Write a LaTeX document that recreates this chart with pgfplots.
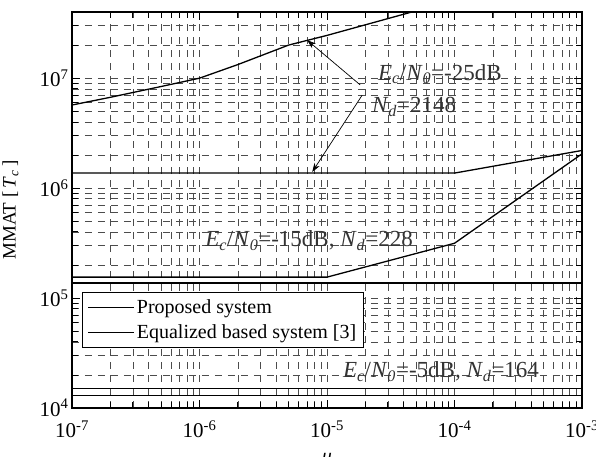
\documentclass[border=0pt]{standalone}
\usepackage{fontspec}
\setmainfont{Liberation Serif}
\usepackage{pgfplots}
\pgfplotsset{compat=1.18}
\usetikzlibrary{arrows.meta}
\begin{document}
\begin{tikzpicture}
\begin{axis}[
  scale only axis, width=510pt, height=396pt,
  xmode=log, ymode=log, log basis x=10, log basis y=10,
  xmin=1e-7, xmax=1e-3, ymin=1e4, ymax=4e7,
  xtick={1e-7,1e-6,1e-5,1e-4,1e-3},
  ytick={1e4,1e5,1e6,1e7},
  minor xtick={2e-7,3e-7,4e-7,5e-7,6e-7,7e-7,8e-7,9e-7,
               2e-6,3e-6,4e-6,5e-6,6e-6,7e-6,8e-6,9e-6,
               2e-5,3e-5,4e-5,5e-5,6e-5,7e-5,8e-5,9e-5,
               2e-4,3e-4,4e-4,5e-4,6e-4,7e-4,8e-4,9e-4},
  minor ytick={2e4,3e4,4e4,5e4,6e4,7e4,8e4,9e4,
               2e5,3e5,4e5,5e5,6e5,7e5,8e5,9e5,
               2e6,3e6,4e6,5e6,6e6,7e6,8e6,9e6,
               2e7,3e7},
  /pgf/number format/assume math mode=true,
  xticklabel={10\textsuperscript{\pgfmathprintnumber[fixed,precision=0]{\tick}}},
  yticklabel={10\textsuperscript{\pgfmathprintnumber[fixed,precision=0]{\tick}}},
  tick label style={font=\fontsize{21}{23}\selectfont},
  xticklabel style={yshift=-9pt},
  grid=both,
  major grid style={black!70, line width=0.6pt, dash pattern=on 7pt off 6pt},
  minor grid style={black!70, line width=0.6pt, dash pattern=on 7pt off 6pt},
  major tick length=8pt, minor tick length=6pt,
  tick style={black, line width=0.8pt},
  axis line style={line width=1.2pt},
  xlabel={\textit{μ}},
  xlabel style={font=\fontsize{20}{22}\selectfont, at={(axis description cs:0.5,-0.105)}, anchor=north},
  ylabel={MMAT [\,\textit{T}\textsubscript{\textit{c}}\,]},
  ylabel style={font=\fontsize{19}{21}\selectfont, at={(axis description cs:-0.098,0.5)}, anchor=south},
  legend style={at={(rel axis cs:0.0196,0.293)}, anchor=north west, draw=black, line width=1.2pt, fill=white,
    font=\fontsize{20}{22}\selectfont, row sep=6pt, inner xsep=5pt, inner ysep=5pt},
  legend cell align=left,
  legend image code/.code={\draw[#1] (0pt,0pt) -- (46pt,0pt);},
]
% -25 dB proposed
\addplot[black, line width=1.3pt] coordinates {(1e-7,1.37e6) (1e-5,1.37e6) (1e-4,1.37e6) (1e-3,2.2e6)};
\addlegendentry{Proposed system}
% -25 dB equalized
\addplot[black, line width=1.3pt] coordinates {(1e-7,5.7e6) (2e-7,6.7e6) (5e-7,8.4e6) (1e-6,1e7) (2e-6,1.33e7) (5e-6,2e7) (1e-5,2.45e7) (5e-5,4.1e7) (1e-4,5.1e7) (1e-3,1e8)};
\addlegendentry{Equalized based system [3]}
% -15 dB
\addplot[black, line width=1.3pt, forget plot] coordinates {(1e-7,1.55e5) (1e-5,1.55e5) (1e-4,3.15e5) (1e-3,2.05e6)};
\addplot[black, line width=1.3pt, forget plot] coordinates {(1e-7,1.37e5) (1e-3,1.37e5)};
% -5 dB
\addplot[black, line width=1.3pt, forget plot] coordinates {(1e-7,1.5e4) (1e-3,1.5e4)};
\addplot[black, line width=1.3pt, forget plot] coordinates {(1e-7,1.3e4) (1e-3,1.3e4)};

\draw[-{Stealth[length=9pt,width=6pt]}, line width=0.7pt] (rel axis cs:0.565,0.816) -- (rel axis cs:0.461,0.929);
\draw[-{Stealth[length=9pt,width=6pt]}, line width=0.7pt] (rel axis cs:0.569,0.790) -- (rel axis cs:0.471,0.596);

\node[anchor=base west, inner sep=0pt, text=black!80, font=\fontsize{23}{25}\selectfont] at (rel axis cs:0.600,0.828) {\textit{E}\textsubscript{\textit{c}}/\textit{N}\textsubscript{\textit{0}}=-25dB};
\node[anchor=base west, inner sep=0pt, text=black!80, font=\fontsize{23}{25}\selectfont] at (rel axis cs:0.588,0.745) {\textit{N}\textsubscript{\textit{d}}=2148};
\node[anchor=base west, inner sep=0pt, text=black!80, font=\fontsize{23}{25}\selectfont] at (rel axis cs:0.261,0.407) {\textit{E}\textsubscript{\textit{c}}/\textit{N}\textsubscript{\textit{0}}=-15dB, \textit{N}\textsubscript{\textit{d}}=228};
\node[anchor=base west, inner sep=0pt, text=black!80, font=\fontsize{23}{25}\selectfont] at (rel axis cs:0.531,0.076) {\textit{E}\textsubscript{\textit{c}}/\textit{N}\textsubscript{\textit{0}}=-5dB, \textit{N}\textsubscript{\textit{d}}=164};
\end{axis}
\pgfresetboundingbox
\path[use as bounding box] (-72pt,-49pt) rectangle (524pt,408pt);
\end{tikzpicture}
\end{document}
